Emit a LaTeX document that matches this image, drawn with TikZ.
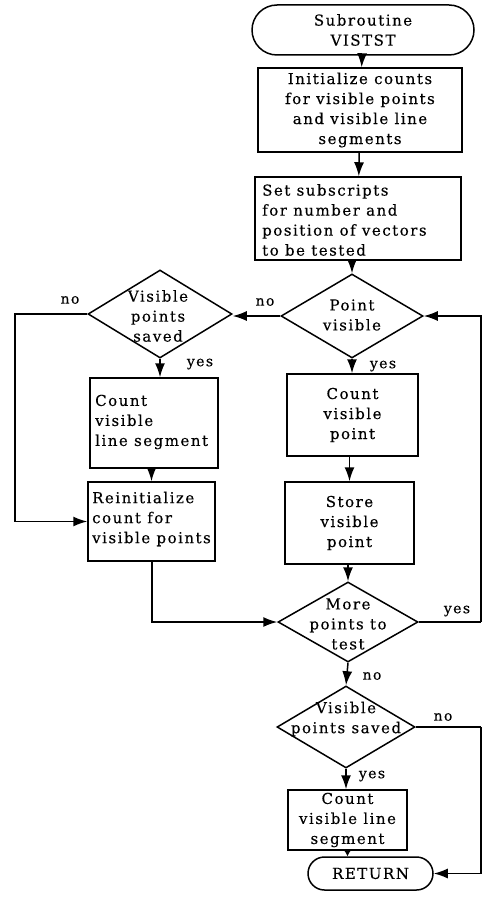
\documentclass[tikz,border=0pt]{standalone}
\usepackage{fontspec}
\setmainfont{DejaVu Serif}[LetterSpace=10, FakeBold=0.3]
\usetikzlibrary{shapes.geometric,shapes.misc,arrows.meta}

\tikzset{
  base/.style={draw, line width=1.5pt, inner sep=0pt,
    font=\fontsize{15}{20}\selectfont},
  procbox/.style={base, rectangle},
  term/.style={base, rounded rectangle},
  decision/.style={draw, line width=1.5pt, diamond, inner sep=0pt},
  dtext/.style={font=\fontsize{15}{20}\selectfont, align=center, inner sep=0pt},
  flow/.style={line width=1.5pt, -{Latex[length=14pt,width=10pt]}},
  shortflow/.style={line width=1.5pt, -{Latex[length=7pt,width=9pt]}},
  plain/.style={line width=1.5pt},
  tag/.style={font=\fontsize{14}{16}\selectfont, inner sep=0pt}
}

\begin{document}
\begin{tikzpicture}[x=1pt, y=-1pt]
\useasboundingbox (0,0) rectangle (483,917);

% terminals and process boxes
\node[term, minimum width=222pt, minimum height=50pt, align=center] (start) at (363,30)
  {Subroutine\\VISTST};
\node[procbox, minimum width=204pt, minimum height=84pt, align=center] (init) at (360,110)
  {Initialize counts\\for visible points\\and visible line\\segments};
\node[procbox, minimum width=206pt, minimum height=83pt] (subs) at (358,218.5) {};
\node[dtext, align=left, anchor=west] (substx) at (262,220)
  {Set subscripts\\for number and\\position of vectors\\to be tested};

% decisions
\node[decision, minimum width=142pt, minimum height=84pt] (pv) at (352,316) {};
\node[dtext] (pvtx) at (352,315) {Point\\visible};

\node[decision, minimum width=144pt, minimum height=88pt] (vs1) at (160,314) {};
\node[dtext] (vs1tx) at (158,316) {Visible\\points\\saved};

\node[procbox, minimum width=128pt, minimum height=90pt] (cls1) at (154,423) {};
\node[dtext, align=left, anchor=west] (cls1tx) at (95,422) {Count\\visible\\line segment};

\node[procbox, minimum width=127pt, minimum height=79pt] (reinit) at (151.5,521.5) {};
\node[dtext, align=left, anchor=west] (reinittx) at (92,519) {Reinitialize\\count for\\visible points};

\node[procbox, minimum width=131pt, minimum height=82pt, align=center] (cvp) at (352.5,415)
  {Count\\visible\\point};
\node[procbox, minimum width=129pt, minimum height=82pt, align=center] (svp) at (349.5,523)
  {Store\\visible\\point};

\node[decision, minimum width=140pt, minimum height=80pt] (more) at (348,622) {};
\node[dtext] (moretx) at (348,624) {More\\points to\\test};

\node[decision, minimum width=138pt, minimum height=82pt] (vs2) at (346,727) {};
\node[dtext] (vs2tx) at (346,719) {Visible\\points saved};

\node[procbox, minimum width=119pt, minimum height=60pt, align=center] (cls2) at (347.5,820)
  {Count\\visible line\\segment};
\node[term, minimum width=125pt, minimum height=33pt] (ret) at (370.5,873.5) {RETURN};

% free corners of the routed lines
\coordinate (nl) at (15,314);
\coordinate (nlb) at (15,521.5);
\coordinate (rb) at (152,622);
\coordinate (ry) at (481,622);
\coordinate (ryt) at (481,316);
\coordinate (rn) at (481,727);
\coordinate (rnb) at (481,873.5);

% connectors
\draw[flow] (start) -- (init);
\draw[flow] (init) -- (subs);
\draw[flow] (subs.south -| pv.north) -- (pv.north);
\draw[flow] (pv.west) -- (vs1.east |- pv.west);
\draw[flow] (vs1.west) -- (nl) -- (nlb) -- (reinit.west);
\draw[flow] (vs1.south) -- (cls1.north -| vs1.south);
\draw[flow] (cls1.south -| reinit.north) -- (reinit.north);
\draw[flow] (pv.south) -- (cvp.north -| pv.south);
\draw[flow] (cvp.south -| svp.north) -- (svp.north);
\draw[flow] (svp.south -| more.north) -- (more.north);
\draw[flow] (reinit.south -| rb) -- (rb) -- (more.west);
\draw[plain] (more.east) -- (ry);
\draw[flow] (ry) -- (ryt) -- (pv.east);
\draw[flow] (more.south) -- (vs2.north);
\draw[plain] (vs2.east) -- (rn);
\draw[flow] (rn) -- (rnb) -- (ret.east);
\draw[flow] (vs2.south) -- (cls2.north -| vs2.south);
\draw[shortflow] (cls2.south) -- (ret.north -| cls2.south);

% branch labels
\node[tag] (n1) at (265,302) {no};
\node[tag] (n2) at (70,300) {no};
\node[tag] (y1) at (200,364) {yes};
\node[tag] (y2) at (383,366) {yes};
\node[tag] (y3) at (457,611) {yes};
\node[tag] (n3) at (372,676) {no};
\node[tag] (n4) at (443,717) {no};
\node[tag] (y4) at (372,776) {yes};
\end{tikzpicture}
\end{document}
